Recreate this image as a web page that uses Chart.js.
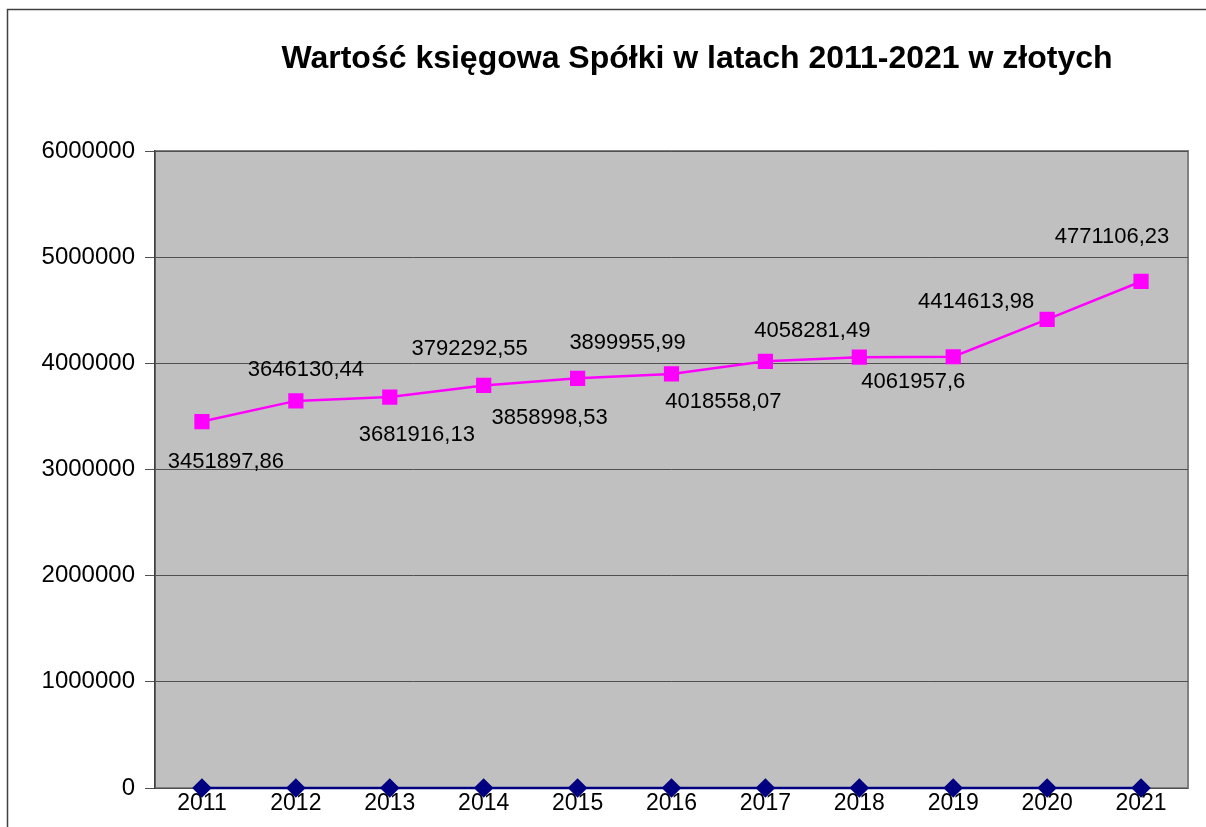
<!DOCTYPE html>
<html>
<head>
<meta charset="utf-8">
<script src="https://cdn.jsdelivr.net/npm/chart.js@4"></script>
<style>
  html, body { margin: 0; padding: 0; background: #fff; }
  #wrap { width: 1206px; height: 827px; }
</style>
</head>
<body>
<div id="wrap"><canvas id="wykres" width="1206" height="827"></canvas></div>
<script>
const lata = ['2011', '2012', '2013', '2014', '2015', '2016', '2017', '2018', '2019', '2020', '2021'];
const wartosc = [3451897.86, 3646130.44, 3681916.13, 3792292.55, 3858998.53, 3899955.99,
                 4018558.07, 4058281.49, 4061957.6, 4414613.98, 4771106.23];
const druga = [0, 0, 0, 0, 0, 0, 0, 0, 0, 0, 0];
const yTicks = [0, 1000000, 2000000, 3000000, 4000000, 5000000, 6000000];
const tytul = 'Wartość księgowa Spółki w latach 2011-2021 w złotych';

// przesuniecia etykiet (px) wzgledem punktu - tak jak reczne ulozenie w oryginale
const etykietyDx = [24, 10, 27, -14, -28, -44, -42, -47, -40, -71, -29];
const etykietyDy = [40, -31, 38, -36, 40, -31, 41, -26, 25, -17, -45];

const FONT = '"Liberation Sans", Arial, sans-serif';

const tlo = {
    id: 'tlo',
    beforeDraw(chart) {
        const ctx = chart.ctx;
        const a = chart.chartArea;
        ctx.save();
        // ramka wykresu
        ctx.strokeStyle = '#404040';
        ctx.lineWidth = 1.5;
        ctx.beginPath();
        ctx.moveTo(7.5, 840);
        ctx.lineTo(7.5, 9.5);
        ctx.lineTo(1206, 9.5);
        ctx.stroke();
        // obszar kreslenia
        ctx.fillStyle = '#c0c0c0';
        ctx.fillRect(a.left, a.top, a.right - a.left, a.bottom - a.top);
        ctx.strokeStyle = '#808080';
        ctx.lineWidth = 2;
        ctx.strokeRect(a.left, a.top, a.right - a.left, a.bottom - a.top);
        // tytul
        ctx.fillStyle = '#000';
        ctx.font = 'bold 32px ' + FONT;
        ctx.textAlign = 'center';
        ctx.textBaseline = 'middle';
        ctx.fillText(tytul, 697, 59);
        ctx.restore();
    },
    afterDatasetsDraw(chart) {
        const ctx = chart.ctx;
        const meta = chart.getDatasetMeta(0);
        ctx.save();
        ctx.fillStyle = '#000';
        ctx.font = '22px ' + FONT;
        ctx.textAlign = 'center';
        ctx.textBaseline = 'middle';
        meta.data.forEach((p, i) => {
            const txt = String(wartosc[i]).replace('.', ',');
            ctx.fillText(txt, p.x + etykietyDx[i], p.y + etykietyDy[i]);
        });
        ctx.restore();
    }
};

const ctx = document.getElementById('wykres').getContext('2d');
new Chart(ctx, {
    type: 'line',
    data: {
        labels: lata,
        datasets: [{
            label: 'Wartość księgowa',
            data: wartosc,
            borderColor: '#ff00ff',
            backgroundColor: '#ff00ff',
            borderWidth: 2.5,
            pointStyle: 'rect',
            pointRadius: 9,
            pointHoverRadius: 9,
            tension: 0
        }, {
            label: 'Seria 2',
            data: druga,
            borderColor: '#000080',
            backgroundColor: '#000080',
            borderWidth: 2.5,
            pointStyle: 'rectRot',
            pointRadius: 8,
            pointHoverRadius: 8,
            tension: 0,
            clip: false
        }]
    },
    options: {
        responsive: false,
        animation: false,
        layout: { padding: { left: 0, right: 18, top: 151, bottom: 0 } },
        plugins: {
            legend: { display: false },
            title: { display: false },
            tooltip: { enabled: false }
        },
        scales: {
            x: {
                offset: true,
                grid: { display: false, drawTicks: false },
                border: { display: false },
                ticks: {
                    color: '#000',
                    font: { family: FONT, size: 23 },
                    padding: 2,
                    maxRotation: 0
                },
                afterFit(s) { s.height = 39; }
            },
            y: {
                min: 0,
                max: 6000000,
                afterBuildTicks(s) { s.ticks = yTicks.map(v => ({ value: v })); },
                grid: {
                    color: '#505050',
                    lineWidth: 1,
                    tickLength: 10,
                    tickColor: '#505050'
                },
                border: { display: true, color: '#404040', width: 1.5 },
                ticks: {
                    color: '#000',
                    font: { family: FONT, size: 24 },
                    padding: 10,
                    callback: v => String(v)
                },
                afterFit(s) { s.width = 155; }
            }
        }
    },
    plugins: [tlo]
});
</script>
</body>
</html>
